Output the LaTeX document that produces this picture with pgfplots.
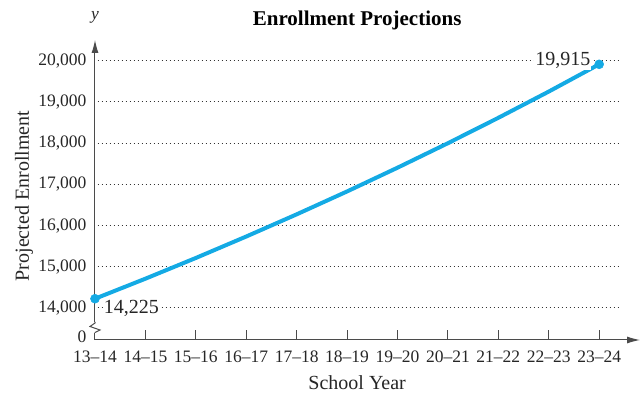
\documentclass[border=0pt]{standalone}
\usepackage{fontspec}
\setmainfont{Liberation Serif}
\usepackage{pgfplots}
\pgfplotsset{compat=1.18}
\usetikzlibrary{arrows.meta}
\definecolor{enroll}{RGB}{20,170,228}
\definecolor{axisgray}{RGB}{75,75,75}

\begin{document}
\begin{tikzpicture}[x=1pt,y=1pt]
\begin{axis}[
    scale only axis,
    width=545pt, height=300pt,
    at={(0,0)}, anchor=south west,
    xmin=0, xmax=10.81,
    ymin=13223, ymax=20505,
    clip=false,
    scaled y ticks=false,
    axis lines=left,
    axis line style={axisgray, line width=1pt, -{Latex[length=13pt,width=7pt]}},
    xtick={0,1,2,3,4,5,6,7,8,9,10},
    xticklabels={13–14,14–15,15–16,16–17,17–18,18–19,19–20,20–21,21–22,22–23,23–24},
    ytick={13300,14000,15000,16000,17000,18000,19000,20000},
    yticklabels={0,{14,000},{15,000},{16,000},{17,000},{18,000},{19,000},{20,000}},
    xtick align=inside,
    major tick length=10pt,
    xtick style={axisgray, line width=1pt},
    ytick style={draw=none},
    tick label style={font=\fontsize{17.5}{20}\selectfont, text=black!85},
    xticklabel style={yshift=-7pt},
    title={\textbf{Enrollment Projections}},
    title style={at={(axis description cs:0.481,1.046)}, anchor=center, font=\fontsize{21}{24}\selectfont},
    xlabel={School Year},
    xlabel style={at={(axis description cs:0.481,-0.143)}, anchor=center, font=\fontsize{20}{23}\selectfont, text=black!85},
    ylabel={Projected Enrollment},
    ylabel style={at={(axis description cs:-0.13,0.48)}, anchor=center, font=\fontsize{20}{23}\selectfont, text=black!85},
]
\pgfplotsinvokeforeach{14000,15000,16000,17000,18000,19000,20000}{
    \draw[black!80, line width=1pt, dash pattern=on 1.3pt off 2.7pt] (axis cs:0.05,#1) -- (axis cs:10.42,#1);
}
\addplot[enroll, line width=4pt, mark=*, mark indices={1,11},
    mark options={fill=enroll, draw=enroll, line width=0.5pt}, mark size=4.5pt]
    coordinates {(0,14225) (1,14711) (2,15214) (3,15735) (4,16273) (5,16829)
                 (6,17405) (7,18000) (8,18616) (9,19253) (10,19915)};
\node[fill=white, inner sep=1pt, anchor=west, font=\fontsize{20}{23}\selectfont, text=black!85]
    at (axis cs:0.15,14000) {14,225};
\node[fill=white, inner sep=1pt, anchor=east, font=\fontsize{20}{23}\selectfont, text=black!85]
    at (axis cs:9.85,20000) {19,915};
\node[font=\fontsize{17.5}{20}\selectfont\itshape, text=black!85] at (axis description cs:0,1.075) {y};
\end{axis}
% axis break on the y axis
\fill[white] (-3,7) rectangle (3,18);
\draw[axisgray, line width=1pt] (0,18) -- (0,17) -- (-5,13.5) -- (5,10) -- (0,7.5) -- (0,7);
\pgfresetboundingbox
\path[use as bounding box] (-95,-55) rectangle (549,340);
\end{tikzpicture}
\end{document}
